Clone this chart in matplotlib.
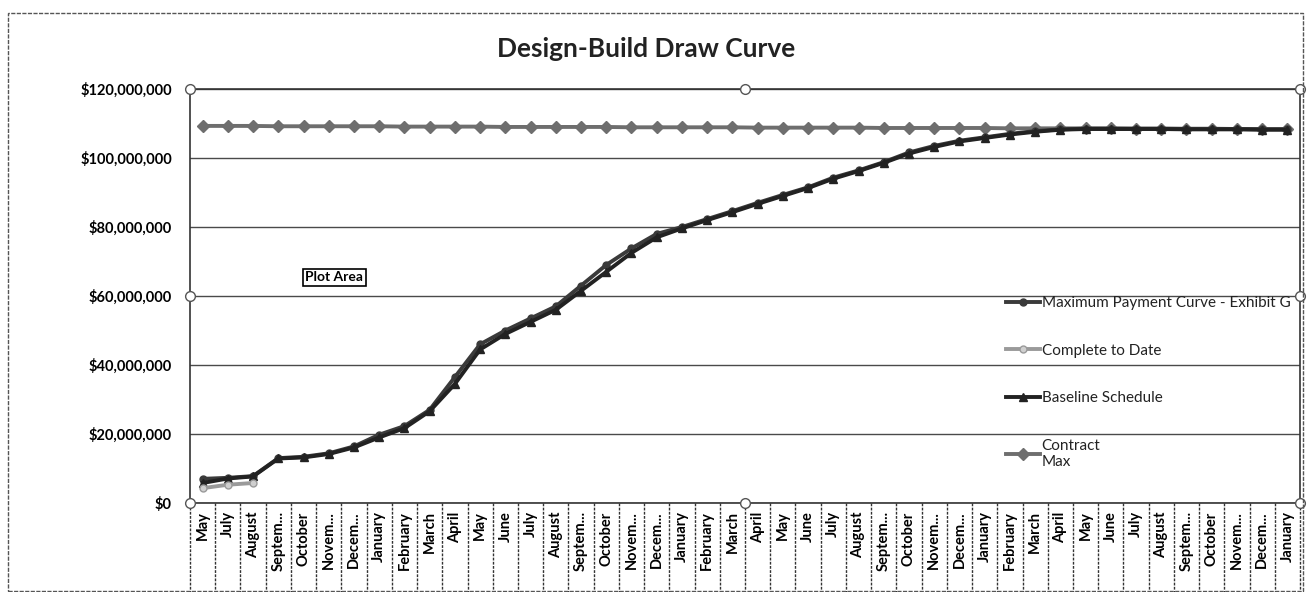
import matplotlib
matplotlib.use("Agg")
import matplotlib.pyplot as plt
from matplotlib.patches import Rectangle
from matplotlib.ticker import FuncFormatter
import matplotlib.transforms as mtransforms

plt.rcParams['font.family'] = ['Lato', 'DejaVu Sans']

months = ["May", "July", "August", "Septem...", "October", "Novem...", "Decem...",
          "January", "February", "March", "April", "May", "June", "July", "August",
          "Septem...", "October", "Novem...", "Decem...", "January", "February",
          "March", "April", "May", "June", "July", "August", "Septem...", "October",
          "Novem...", "Decem...", "January", "February", "March", "April", "May",
          "June", "July", "August", "Septem...", "October", "Novem...", "Decem...",
          "January"]

# values in $ millions
max_payment = [7.0, 7.3, 7.8, 13.0, 13.4, 14.4, 16.4, 19.8, 22.3, 27.0, 36.5, 46.0,
               50.0, 53.5, 57.0, 63.0, 69.0, 73.8, 78.0, 80.0, 82.3, 84.6, 87.0,
               89.3, 91.5, 94.3, 96.4, 98.8, 101.6, 103.5, 105.0, 106.0, 107.0,
               107.8, 108.3, 108.5, 108.5, 108.5, 108.5, 108.4, 108.4, 108.4,
               108.3, 108.3]
baseline = [5.8, 7.1, 7.7, 12.9, 13.2, 14.2, 16.1, 19.0, 21.7, 26.6, 34.5, 44.5,
            49.0, 52.5, 56.0, 61.5, 67.0, 72.5, 77.0, 79.6, 82.0, 84.3, 86.7,
            89.0, 91.3, 94.0, 96.2, 98.6, 101.3, 103.2, 104.8, 105.8, 106.8,
            107.6, 108.2, 108.4, 108.4, 108.4, 108.4, 108.3, 108.3, 108.3,
            108.2, 108.2]
complete_to_date = [4.3, 5.3, 5.8]
contract_max = [109.3, 109.3, 109.3, 109.2, 109.2, 109.2, 109.2, 109.2, 109.1,
                109.1, 109.1, 109.1, 109.0, 109.0, 109.0, 109.0, 109.0, 108.9,
                108.9, 108.9, 108.9, 108.9, 108.8, 108.8, 108.8, 108.8, 108.8,
                108.7, 108.7, 108.7, 108.7, 108.7, 108.6, 108.6, 108.6, 108.6,
                108.6, 108.5, 108.5, 108.5, 108.5, 108.4, 108.4, 108.4]

scale = 1e6
x = list(range(len(months)))

fig = plt.figure(figsize=(13.07, 5.92), dpi=100)
ax = fig.add_axes([190/1307, 1 - 503/592, 1110/1307, 414/592])

ax.plot(x, [v*scale for v in max_payment], color='#3a3a3a', lw=2.8,
        marker='o', ms=5, label='Maximum Payment Curve - Exhibit G', zorder=4)
ax.plot(x[:len(complete_to_date)], [v*scale for v in complete_to_date],
        color='#9a9a9a', lw=2.8, marker='o', ms=5, mfc='#cfcfcf',
        label='Complete to Date', zorder=5)
ax.plot(x, [v*scale for v in baseline], color='#222222', lw=2.8,
        marker='^', ms=6, label='Baseline Schedule', zorder=4)
ax.plot(x, [v*scale for v in contract_max], color='#6e6e6e', lw=2.8,
        marker='D', ms=6, label='Contract\nMax', zorder=3)

ax.set_xlim(-0.5, len(months) - 0.5)
ax.set_ylim(0, 120e6)
ax.set_yticks([0, 20e6, 40e6, 60e6, 80e6, 100e6, 120e6])
ax.yaxis.set_major_formatter(FuncFormatter(lambda v, p: "${:,.0f}".format(v)))
ax.tick_params(axis='y', length=0, pad=13, labelsize=10.5)
for lab in ax.get_yticklabels():
    lab.set_fontweight('bold')
ax.grid(axis='y', color='#4a4a4a', lw=1)
ax.set_axisbelow(True)

ax.set_xticks(x)
ax.set_xticklabels(months, rotation=90, fontsize=10.5, fontweight='bold',
                   va='top', ha='center')
ax.tick_params(axis='x', length=0, pad=6)

for s in ['left', 'right', 'top', 'bottom']:
    ax.spines[s].set_color('#333333')
    ax.spines[s].set_linewidth(1.2)

# category separators below the axis
trans = mtransforms.blended_transform_factory(ax.transData, ax.transAxes)
for i in range(len(months) + 1):
    ax.plot([i - 0.5, i - 0.5], [0, -0.215], transform=trans, color='#333333',
            lw=1, clip_on=False, ls=(0, (2, 1)))

# selection handles of the plot area
for hx, hy in [(0, 1), (0.5, 1), (1, 1), (0, 0.5), (1, 0.5), (0, 0), (0.5, 0), (1, 0)]:
    ax.plot([hx], [hy], transform=ax.transAxes, marker='o', ms=7, mfc='white',
            mec='#555555', mew=1, clip_on=False, zorder=10)

ax.text(0.104, 0.545, "Plot Area", transform=ax.transAxes, fontsize=10,
        fontweight='bold', va='center', ha='left',
        bbox=dict(boxstyle='square,pad=0.2', fc='white', ec='black', lw=1.2))

leg = ax.legend(loc='upper left', bbox_to_anchor=(0.73, 0.515), frameon=False,
                fontsize=11, labelspacing=2.2, handlelength=2.2,
                handletextpad=0.1, borderaxespad=0)
for t in leg.get_texts():
    t.set_color('#222222')

fig.text(0.494, 0.918, "Design-Build Draw Curve", ha='center', va='center',
         fontsize=19, fontweight='bold', color='#222222')

fig.patches.append(Rectangle((8/1307, 1 - 591/592), (1303-8)/1307, (591-13)/592,
                             transform=fig.transFigure, fill=False,
                             ec='#555555', lw=1, ls=(0, (3, 1))))

fig.savefig("out.png", dpi=100, facecolor='white')
